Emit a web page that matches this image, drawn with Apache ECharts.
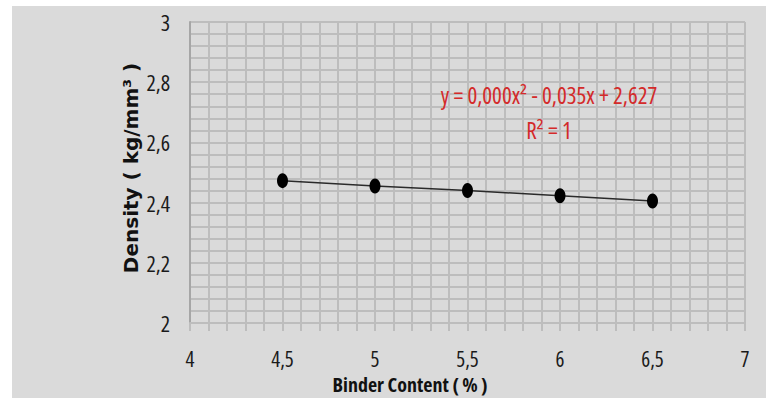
<!DOCTYPE html>
<html>
<head>
<meta charset="utf-8">
<script src="https://cdn.jsdelivr.net/npm/echarts@6/dist/echarts.min.js"></script>
<style>
  html, body { margin: 0; padding: 0; background: #ffffff; width: 766px; height: 398px; overflow: hidden; }
  #chart { position: absolute; left: 12px; top: 6px; width: 754px; height: 392px; }
  #chart svg text { font-stretch: 75% !important; }
</style>
</head>
<body>
<div id="chart"></div>
<script>
// Data
var binderContent = [4.5, 5, 5.5, 6, 6.5];
var density = [2.473, 2.455, 2.440, 2.423, 2.405];
var xTickLabels = ['4', '4,5', '5', '5,5', '6', '6,5', '7'];
var yTickLabels = ['2', '2,2', '2,4', '2,6', '2,8', '3'];
var equationText = 'y = 0,000x² - 0,035x + 2,627';
var r2Text = 'R² = 1';
var xTitle = 'Binder Content ( % )';
var yTitle = 'Density ( kg/mm³ )';

var points = binderContent.map(function (x, i) { return [x, density[i]]; });

var labelFont = '"Open Sans", "Noto Sans", sans-serif';
var gridColor = '#bdbdbd';

function fmt(v, labels, min, step) {
  var idx = Math.round((v - min) / step);
  return labels[idx] !== undefined ? labels[idx] : '';
}

var chart = echarts.init(document.getElementById('chart'), null, { renderer: 'svg' });
chart.setOption({
  backgroundColor: '#dadada',
  animation: false,
  grid: { left: 178, top: 16, right: 21, bottom: 75, containLabel: false },
  xAxis: {
    type: 'value',
    min: 4, max: 7, interval: 0.5,
    axisLine: { show: true, lineStyle: { color: gridColor, width: 2 } },
    axisTick: { show: true, length: 8, lineStyle: { color: gridColor, width: 2 } },
    minorTick: { show: true, splitNumber: 5, length: 8, lineStyle: { color: gridColor, width: 2 } },
    splitLine: { show: true, lineStyle: { color: gridColor, width: 2 } },
    minorSplitLine: { show: true, lineStyle: { color: gridColor, width: 2 } },
    axisLabel: {
      margin: 25,
      color: '#1a1a1a',
      fontFamily: labelFont,
      fontSize: 21,
      lineHeight: 21,
      formatter: function (v) { return fmt(v, xTickLabels, 4, 0.5); }
    }
  },
  yAxis: {
    type: 'value',
    min: 2, max: 3, interval: 0.2,
    axisLine: { show: true, lineStyle: { color: '#a6a6a6', width: 2 } },
    axisTick: { show: false },
    minorTick: { show: false },
    splitLine: { show: true, lineStyle: { color: gridColor, width: 2 } },
    minorSplitLine: { show: true, lineStyle: { color: gridColor, width: 2 } },
    minorSplitNumber: 5,
    axisLabel: {
      margin: 20,
      color: '#1a1a1a',
      fontFamily: labelFont,
      fontSize: 22,
      lineHeight: 22,
      formatter: function (v) { return fmt(v, yTickLabels, 2, 0.2); }
    }
  },
  series: [{
    type: 'line',
    data: points,
    symbol: 'circle',
    symbolSize: [11, 15],
    itemStyle: { color: '#000000' },
    lineStyle: { color: '#2a2a2a', width: 1.5 },
    z: 3
  }],
  graphic: [
    {
      type: 'text',
      z: 100,
      x: 398, y: 378,
      style: {
        text: xTitle,
        fill: '#111111',
        font: 'bold 20px ' + labelFont,
        lineHeight: 20,
        align: 'center',
        verticalAlign: 'middle'
      }
    },
    {
      type: 'text',
      z: 100,
      x: 119, y: 162,
      rotation: Math.PI / 2,
      style: {
        text: yTitle,
        fill: '#111111',
        font: 'bold 20px "DejaVu Sans", Verdana, sans-serif',
        lineHeight: 20,
        align: 'center',
        verticalAlign: 'middle'
      }
    },
    {
      type: 'text',
      z: 100,
      x: 537, y: 89,
      style: {
        text: equationText,
        fill: '#d42a2a',
        font: '23px ' + labelFont,
        align: 'center',
        verticalAlign: 'middle'
      }
    },
    {
      type: 'text',
      z: 100,
      x: 537, y: 124,
      style: {
        text: r2Text,
        fill: '#d42a2a',
        font: '23px ' + labelFont,
        align: 'center',
        verticalAlign: 'middle'
      }
    }
  ]
});

function adjustStretch() {
  var nodes = document.querySelectorAll('#chart svg text');
  for (var i = 0; i < nodes.length; i++) {
    var t = nodes[i].textContent;
    if (t.indexOf('Density') !== -1) {
      nodes[i].style.setProperty('font-stretch', '100%', 'important');
    } else if (t.indexOf('Binder') !== -1) {
      nodes[i].style.setProperty('font-stretch', '84%', 'important');
    }
  }
}
adjustStretch();
chart.on('finished', adjustStretch);
setTimeout(adjustStretch, 0);
</script>
</body>
</html>
